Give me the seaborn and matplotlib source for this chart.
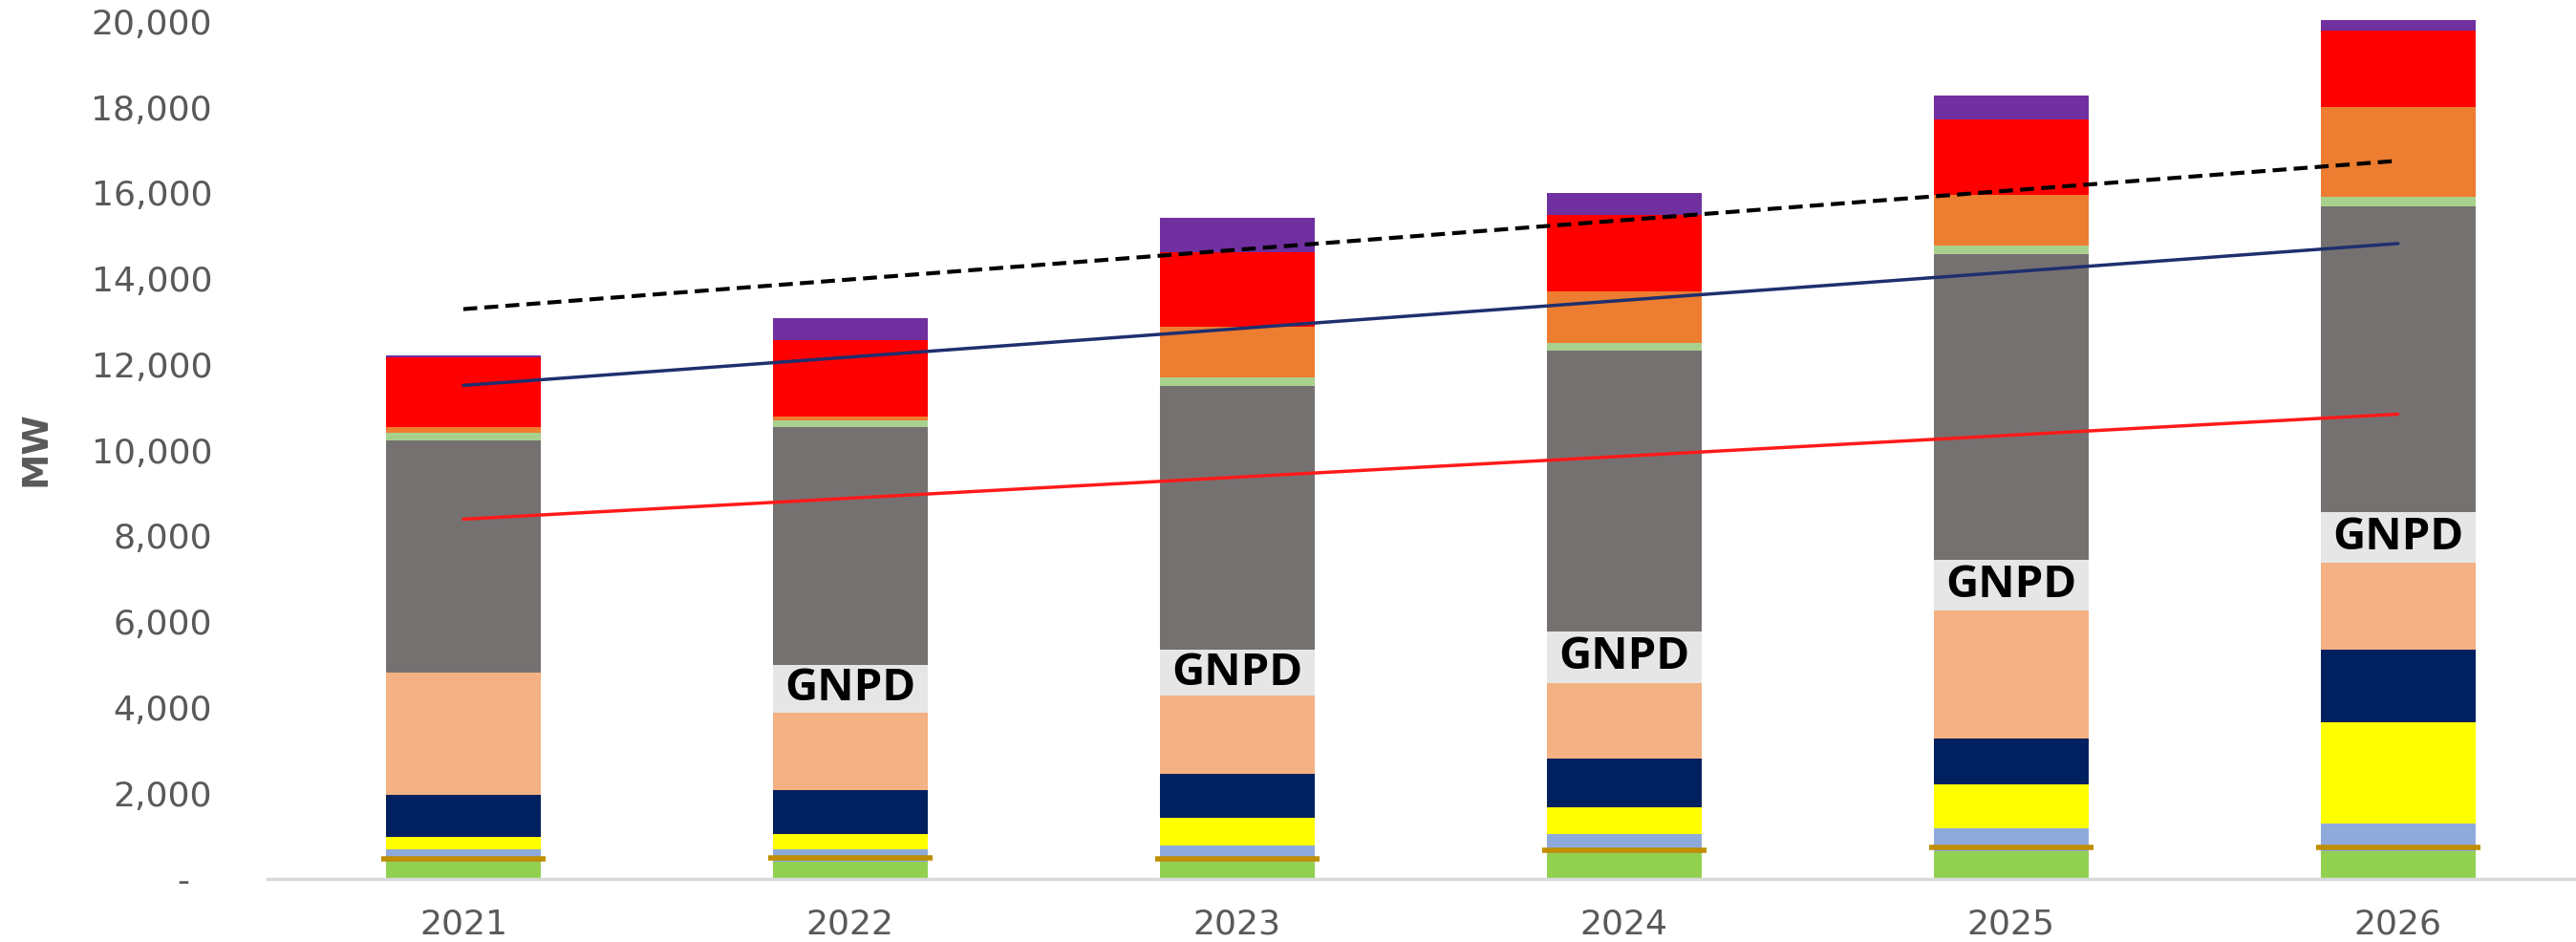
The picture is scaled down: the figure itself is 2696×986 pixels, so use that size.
import numpy as np
import pandas as pd
import seaborn as sns
import matplotlib.pyplot as plt

# Years on the x axis
years = ['2021', '2022', '2023', '2024', '2025', '2026']

# Stacked segment heights (MW), bottom to top
green = [400, 400, 410, 590, 640, 650]
light_blue = [300, 280, 370, 450, 530, 650]
yellow = [270, 360, 650, 640, 1040, 2360]
navy = [980, 1030, 1030, 1130, 1070, 1690]
peach = [2870, 1810, 1810, 1760, 2970, 2020]
gnpd = [0, 1120, 1080, 1200, 1190, 1190]
gray = [5410, 5530, 6140, 6560, 7130, 7130]
light_green = [170, 160, 210, 170, 210, 210]
orange = [130, 100, 1170, 1200, 1170, 2110]
red = [1640, 1780, 1740, 1790, 1760, 1770]
purple = [30, 500, 800, 500, 560, 250]

# Short brown marker per year (MW)
brown_marker = [460, 480, 470, 670, 740, 740]

# Straight reference lines, start and end values (MW)
line_years = ['2021', '2026']
dashed_line = [13290, 16750]
blue_line = [11510, 14820]
red_line = [8390, 10840]

series = [
    (green, '#92d050'),
    (light_blue, '#8eaadb'),
    (yellow, '#ffff00'),
    (navy, '#002060'),
    (peach, '#f4b183'),
    (gnpd, '#e7e6e6'),
    (gray, '#767171'),
    (light_green, '#a9d18e'),
    (orange, '#ed7d31'),
    (red, '#ff0000'),
    (purple, '#7030a0'),
]

sns.set_style('white')
plt.rcParams['font.family'] = ['DejaVu Sans']

fig = plt.figure(figsize=(26.96, 9.86), dpi=100)
ax = fig.add_axes([0.104, 0.067, 0.896, 0.933])

# cumulative tops, drawn from the tallest down so each layer covers the next
tops = np.cumsum(np.array([s for s, _ in series]), axis=0)
for i in range(len(series) - 1, -1, -1):
    sns.barplot(x=years, y=tops[i], color=series[i][1], width=0.4,
                saturation=1, linewidth=0, ax=ax)

# GNPD labels centred in their segment
gnpd_bottom = tops[4]
for i, yr in enumerate(years):
    if gnpd[i] > 0:
        ax.text(i, gnpd_bottom[i] + gnpd[i] / 2, 'GNPD', ha='center', va='center',
                fontsize=34, fontweight='bold', family=['Open Sans', 'DejaVu Sans'],
                color='black')

# brown dash markers
sns.scatterplot(x=years, y=brown_marker, marker='_', s=15500, linewidth=4,
                color='#bf8f00', ax=ax, zorder=5)

# reference lines
ax.plot([years.index(y) for y in line_years], dashed_line, color='black',
        linewidth=3, linestyle=(0, (3.5, 1.8)), zorder=6)
ax.plot([years.index(y) for y in line_years], blue_line, color='#1f2f6e',
        linewidth=2.5, zorder=6)
ax.plot([years.index(y) for y in line_years], red_line, color='#ff1a1a',
        linewidth=2.5, zorder=6)

ax.set_xlim(-0.505, 5.46)
ax.set_ylim(0, 20500)
yt = np.arange(0, 20001, 2000)
ax.set_yticks(yt)
ax.set_yticklabels(['-  '] + [f'{v:,}' for v in yt[1:]])
ax.tick_params(axis='y', length=0, pad=42, labelsize=26, labelcolor='#595959')
ax.tick_params(axis='x', length=0, pad=22, labelsize=26, labelcolor='#595959')

for side in ['top', 'right', 'left']:
    ax.spines[side].set_visible(False)
ax.spines['bottom'].set_color('#d9d9d9')
ax.spines['bottom'].set_linewidth(2.5)

ax.set_ylabel('MW', fontsize=27, color='#595959', fontweight='bold')
ax.yaxis.set_label_coords(-0.093, 0.49)
ax.set_xlabel('')

fig.savefig('out.png', dpi=100)
